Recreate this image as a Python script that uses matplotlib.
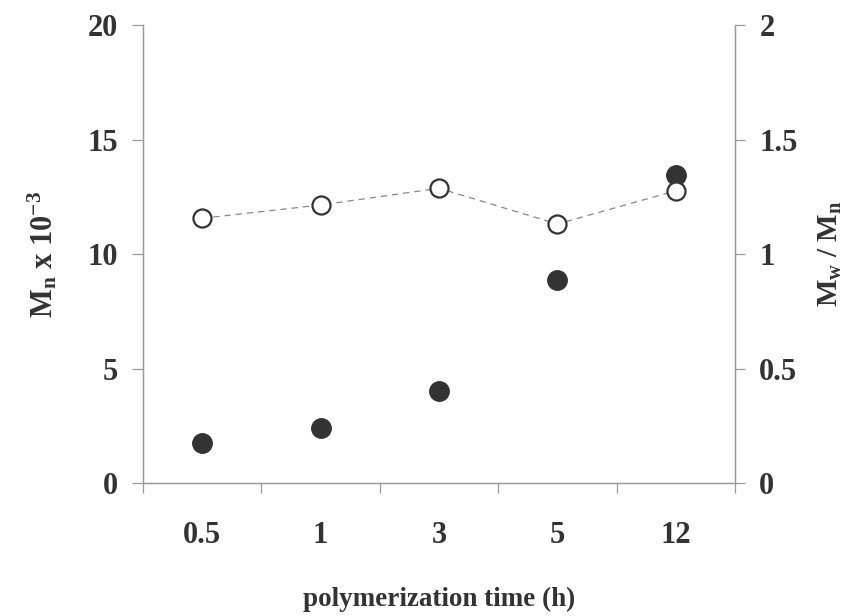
import matplotlib

matplotlib.use("Agg")
import matplotlib.pyplot as plt  # noqa: E402

times = ["0.5", "1", "3", "5", "12"]
mn = [1.73, 2.42, 4.0, 8.86, 13.45]
pdi = [1.156, 1.214, 1.287, 1.131, 1.276]

left_ticks = [0, 5, 10, 15, 20]
right_ticks = [0, 0.5, 1, 1.5, 2]
right_labels = ["0", "0.5", "1", "1.5", "2"]

plt.rcParams["font.family"] = ["Liberation Serif", "DejaVu Serif"]
plt.rcParams["font.weight"] = "bold"
plt.rcParams["axes.labelweight"] = "bold"
plt.rcParams["mathtext.fontset"] = "custom"
plt.rcParams["mathtext.rm"] = "Liberation Serif:bold"
plt.rcParams["mathtext.it"] = "Liberation Serif:bold"
plt.rcParams["mathtext.bf"] = "Liberation Serif:bold"

text_color = "#333333"
axis_color = "#999999"

fig = plt.figure(figsize=(8.49, 6.16), dpi=100)
ax = fig.add_axes([0.1684, 0.2159, 0.6973, 0.7435])
ax2 = ax.twinx()

x = list(range(len(times)))
ax.plot(x, mn, "o", color="#333333", markersize=14, zorder=3)
ax2.plot(x, pdi, "--", color="#888888", linewidth=0.9, dashes=(5, 4), zorder=2)
ax2.plot(x, pdi, "o", markerfacecolor="white", markeredgecolor="#333333",
         markersize=13, markeredgewidth=1.6, zorder=3)

ax.set_xlim(-0.5, len(times) - 0.5)
ax.set_ylim(0, 20)
ax2.set_ylim(0, 2)

ax.set_xticks([i - 0.5 for i in range(len(times) + 1)])
ax.set_xticklabels([])
ax.set_xticks(x, minor=True)
ax.set_xticklabels(times, minor=True)
ax.tick_params(axis="x", which="major", direction="out", length=7.5, width=0.9,
               color=axis_color)
ax.tick_params(axis="x", which="minor", length=0, pad=27, labelsize=22,
               labelcolor=text_color)

ax.set_yticks(left_ticks)
ax.tick_params(axis="y", direction="out", length=8, width=0.9, color=axis_color,
               labelsize=22, labelcolor=text_color, pad=10)
ax2.set_yticks(right_ticks)
ax2.set_yticklabels(right_labels)
ax2.tick_params(axis="y", direction="out", length=7.5, width=0.9, color=axis_color,
                labelsize=22, labelcolor=text_color, pad=10)

for a in (ax, ax2):
    a.spines["top"].set_visible(False)
    for side in ("left", "right", "bottom"):
        a.spines[side].set_color(axis_color)
        a.spines[side].set_linewidth(0.9)

ax.set_xlabel("polymerization time (h)", fontsize=19.5, color=text_color,
              labelpad=27)
ax.set_ylabel(r"M$_\mathrm{n}$ x 10$^{\mathrm{-3}}$", fontsize=22,
              color=text_color, labelpad=20)
ax2.set_ylabel(r"M$_\mathrm{w}$ / M$_\mathrm{n}$", fontsize=21,
               color=text_color, labelpad=14)

fig.savefig("out.png", dpi=100, facecolor="white")
